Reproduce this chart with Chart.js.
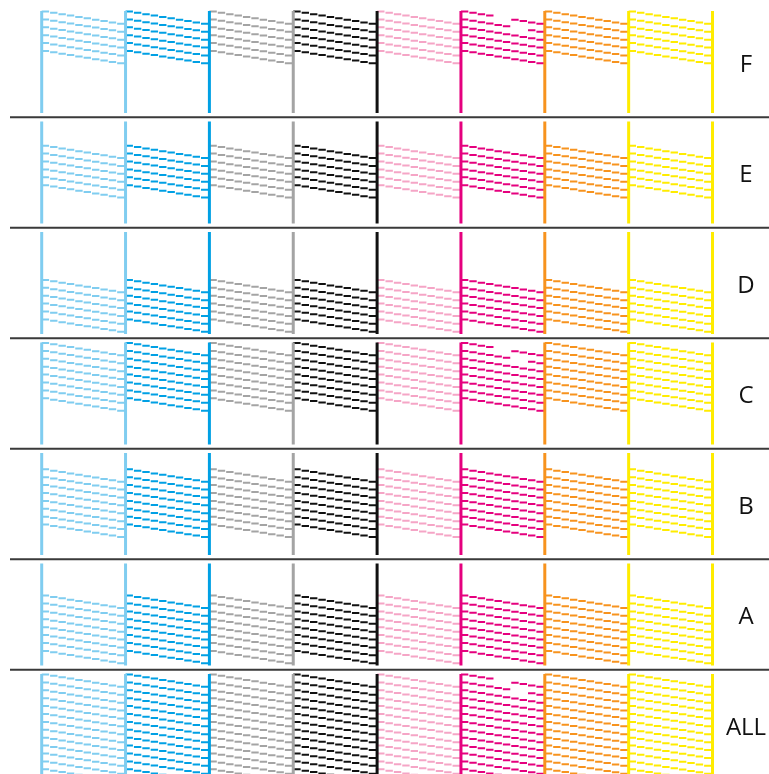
<!DOCTYPE html>
<html><head><meta charset="utf-8">
<script src="https://cdn.jsdelivr.net/npm/chart.js@4.4.1/dist/chart.umd.min.js"></script>
<style>html,body{margin:0;padding:0;background:#fff;overflow:hidden}#wrap{width:769px;height:774px;position:relative}canvas{display:block}</style>
</head><body><div id="wrap"><canvas id="c" width="769" height="774"></canvas></div>
<script>
// ---------- data ----------
const panelLabels   = ['F', 'E', 'D', 'C', 'B', 'A', 'ALL'];
const panelRowStart = [0, 3, 6, 0, 2, 4, 0];      // first nozzle row printed in each panel
const panelRowCount = [6, 6, 6, 8, 8, 8, 13];     // nozzle rows printed in each panel
const inkNames  = ['Light Cyan', 'Cyan', 'Gray', 'Black', 'Light Magenta', 'Magenta', 'Orange', 'Yellow'];
const inkColors = ['#80cdf0', '#00a0e4', '#a4a4a4', '#111111', '#f5a5c6', '#e5007e', '#f7931e', '#ffec00'];
const boundaryInk = [0, 0, 1, 2, 3, 5, 6, 7, 7];  // ink of each vertical guide line
const segmentsPerRow = 10;
// missing dashes: [panel, ink index, row, segment]
const missingSegments = [
  ['F', 5, 0, 4], ['F', 5, 0, 5], ['F', 5, 1, 6], ['F', 5, 1, 7],
  ['C', 5, 0, 4], ['C', 5, 0, 5], ['C', 5, 1, 6], ['C', 5, 1, 7],
  ['ALL', 5, 0, 4], ['ALL', 5, 0, 5], ['ALL', 5, 1, 6], ['ALL', 5, 1, 7]
];

// ---------- layout ----------
const L = {
  W: 769, H: 774,
  x0: 41.7, blockW: 83.85,
  top0: 11, panelH: 110.5, vLen: 102,
  rowOff: 0.5, rowGap: 7.9, stepY: 1.37, segGap: 1.0,
  sepDy: 4.3, sepX0: 10, sepX1: 769,
  labelX: 746, labelDy: 60.6
};

const isMissing = (p, k, r, s) => missingSegments.some(m => m[0] === panelLabels[p] && m[1] === k && m[2] === r && m[3] === s);

const datasets = [];

// vertical guide lines
boundaryInk.forEach((ink, j) => {
  const x = L.x0 + j * L.blockW;
  const pts = [];
  panelLabels.forEach((_, p) => {
    const t = L.top0 + p * L.panelH;
    pts.push({x, y: t}, {x, y: t + L.vLen}, {x, y: null});
  });
  datasets.push({label: 'guide ' + j, data: pts, borderColor: inkColors[ink], borderWidth: 3, order: 0});
});

// stepped dash rows
panelLabels.forEach((_, p) => {
  const t = L.top0 + p * L.panelH;
  inkColors.forEach((col, k) => {
    const xl = L.x0 + k * L.blockW;
    const w = L.blockW / segmentsPerRow;
    const pts = [];
    for (let r = 0; r < panelRowCount[p]; r++) {
      const y0 = t + L.rowOff + (panelRowStart[p] + r) * L.rowGap;
      for (let s = 0; s < segmentsPerRow; s++) {
        if (isMissing(p, k, r, s)) continue;
        const y = y0 + s * L.stepY;
        const xa = xl + s * w;
        const xb = xl + (s + 1) * w - (s < segmentsPerRow - 1 ? L.segGap : 0);
        pts.push({x: xa, y}, {x: xb, y}, {x: xb, y: null});
      }
    }
    datasets.push({label: panelLabels[p] + ' ' + inkNames[k], data: pts, borderColor: col, borderWidth: 2, order: 1});
  });
});

// panel separators
{
  const pts = [];
  for (let p = 1; p < panelLabels.length; p++) {
    const y = L.top0 + p * L.panelH - L.sepDy;
    pts.push({x: L.sepX0, y}, {x: L.sepX1, y}, {x: L.sepX1, y: null});
  }
  datasets.push({label: 'separators', data: pts, borderColor: '#3a3a3a', borderWidth: 2, order: 2});
}

const labelPlugin = {
  id: 'panelLabels',
  afterDatasetsDraw(chart) {
    const {ctx, scales: {x, y}} = chart;
    ctx.save();
    ctx.font = '24px "Open Sans"';
    ctx.fillStyle = '#111';
    ctx.textAlign = 'center';
    ctx.textBaseline = 'alphabetic';
    panelLabels.forEach((txt, p) => {
      ctx.fillText(txt, x.getPixelForValue(L.labelX), y.getPixelForValue(L.top0 + p * L.panelH + L.labelDy));
    });
    ctx.restore();
  }
};

new Chart(document.getElementById('c'), {
  type: 'line',
  data: {datasets},
  options: {
    responsive: false, animation: false, devicePixelRatio: 1,
    layout: {padding: 0},
    events: [],
    spanGaps: false,
    elements: {point: {radius: 0}, line: {tension: 0, borderCapStyle: 'butt', fill: false}},
    plugins: {legend: {display: false}, tooltip: {enabled: false}},
    scales: {
      x: {type: 'linear', min: 0, max: L.W, display: false},
      y: {type: 'linear', min: 0, max: L.H, reverse: true, display: false}
    }
  },
  plugins: [labelPlugin]
});
</script></body></html>
